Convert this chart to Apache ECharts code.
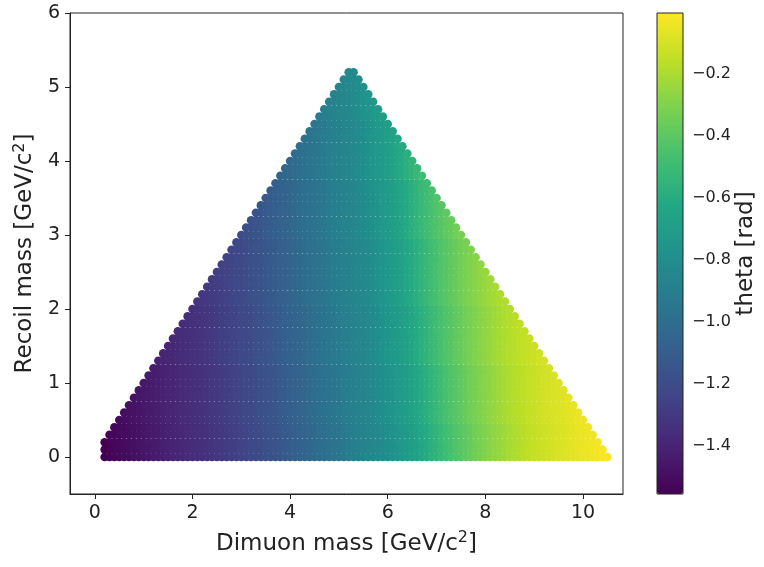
<!DOCTYPE html>
<html>
<head>
<meta charset="utf-8">
<script src="https://cdn.jsdelivr.net/npm/echarts@6/dist/echarts.min.js"></script>
<style>
    body { margin: 0; background: #fff; }
    #main { width: 764px; height: 567px; }
</style>
</head>
<body>
<div id="main"></div>
<script>
    // grid columns (dimuon mass) and rows (recoil mass)
    var dimuonMass = [0.2,0.3,0.4,0.5,0.6,0.7,0.8,0.9,1.0,1.1,1.2,1.3,1.4,1.5,1.6,1.7,1.8,1.9,2.0,2.1,
        2.2,2.3,2.4,2.5,2.6,2.7,2.8,2.9,3.0,3.1,3.2,3.3,3.4,3.5,3.6,3.7,3.8,3.9,4.0,4.1,
        4.2,4.3,4.4,4.5,4.6,4.7,4.8,4.9,5.0,5.1,5.2,5.3,5.4,5.5,5.6,5.7,5.8,5.9,6.0,6.1,
        6.2,6.3,6.4,6.5,6.6,6.7,6.8,6.9,7.0,7.1,7.2,7.3,7.4,7.5,7.6,7.7,7.8,7.9,8.0,8.1,
        8.2,8.3,8.4,8.5,8.6,8.7,8.8,8.9,9.0,9.1,9.2,9.3,9.4,9.5,9.6,9.7,9.8,9.9,10.0,10.1,
        10.2,10.3,10.4,10.5];
    var recoilMass = [0.0,0.1,0.2,0.3,0.4,0.5,0.6,0.7,0.8,0.9,1.0,1.1,1.2,1.3,1.4,1.5,1.6,1.7,1.8,1.9,
        2.0,2.1,2.2,2.3,2.4,2.5,2.6,2.7,2.8,2.9,3.0,3.1,3.2,3.3,3.4,3.5,3.6,3.7,3.8,3.9,
        4.0,4.1,4.2,4.3,4.4,4.5,4.6,4.7,4.8,4.9,5.0,5.1,5.2];
    // first / last filled column of every row (triangle edges)
    var rowFirstCol = [0,0,0,1,2,3,4,5,6,7,8,9,10,11,12,13,14,15,16,17,18,19,20,21,22,23,24,25,26,27,
        28,29,30,31,32,33,34,35,36,37,38,39,40,41,42,43,44,45,46,47,48,49,50];
    var rowLastCol = [103,102,101,100,99,98,97,96,95,94,93,92,91,90,89,88,87,86,85,84,83,82,81,80,79,78,
        77,76,75,74,73,72,71,70,69,68,67,66,65,64,63,62,61,60,59,58,57,56,55,54,53,52,51];
    // theta read along the bottom row, one per column
    var thetaAlongBase = [-1.556,-1.545,-1.534,-1.523,-1.512,-1.501,-1.490,-1.479,-1.468,-1.457,
        -1.446,-1.435,-1.424,-1.413,-1.402,-1.392,-1.382,-1.372,-1.362,-1.352,
        -1.342,-1.332,-1.322,-1.312,-1.302,-1.289,-1.276,-1.263,-1.250,-1.237,
        -1.224,-1.211,-1.198,-1.185,-1.172,-1.156,-1.140,-1.124,-1.108,-1.092,
        -1.076,-1.060,-1.044,-1.028,-1.012,-0.996,-0.980,-0.964,-0.948,-0.932,
        -0.916,-0.900,-0.887,-0.874,-0.861,-0.848,-0.835,-0.820,-0.799,-0.778,
        -0.757,-0.735,-0.714,-0.692,-0.670,-0.640,-0.610,-0.580,-0.550,-0.520,
        -0.490,-0.462,-0.438,-0.414,-0.390,-0.367,-0.343,-0.320,-0.302,-0.284,
        -0.266,-0.248,-0.230,-0.212,-0.195,-0.183,-0.171,-0.159,-0.147,-0.135,
        -0.123,-0.111,-0.102,-0.093,-0.085,-0.076,-0.067,-0.059,-0.050,-0.041,
        -0.031,-0.022,-0.012,-0.003];
    // how many columns the colour bands lean to the left at each row
    var rowColourShift = [0,0,0,0,0,1,1,1,1,1,1,1,1,2,2,2,2,2,2,2,2,3,3,3,3,3,3,3,3,3,
        4,4,4,4,4,4,4,4,5,5,5,5,5,5,5,5,6,6,6,6,6,6,6];

    var xTicks = [0, 2, 4, 6, 8, 10];
    var yTicks = [0, 1, 2, 3, 4, 5, 6];
    var cbTicks = [-1.4, -1.2, -1.0, -0.8, -0.6, -0.4, -0.2];
    var viridis = ['#440154','#482475','#414487','#355f8d','#2a788e','#21918c',
        '#22a884','#44bf70','#7ad151','#bddf26','#fde725'];

    var points = [];
    for (var r = 0; r < recoilMass.length; r++) {
        for (var c = rowFirstCol[r]; c <= rowLastCol[r]; c++) {
            var k = Math.min(c + rowColourShift[r], thetaAlongBase.length - 1);
            points.push([dimuonMass[c], recoilMass[r], thetaAlongBase[k]]);
        }
    }
    var thetaMin = Math.min.apply(null, thetaAlongBase);
    var thetaMax = Math.max.apply(null, thetaAlongBase);

    var font = 'DejaVu Sans';
    var fmt = function (v) { return v.toFixed(1).replace('-', '\u2212'); };

    var option = {
        animation: false,
        textStyle: { fontFamily: font, color: '#222' },
        grid: [
            { left: 70, top: 13, width: 553, height: 481, show: true, borderColor: '#222', borderWidth: 1 },
            { left: 657, top: 13, width: 26, height: 481, show: true, borderColor: '#222', borderWidth: 1, z: 10 }
        ],
        xAxis: [
            {
                type: 'value', gridIndex: 0, min: -0.51, max: 10.82,
                name: 'Dimuon mass [GeV/c{sup|2}]', nameLocation: 'middle', nameGap: 36,
                nameTextStyle: {
                    fontFamily: font, fontSize: 23, color: '#222',
                    rich: { sup: { fontSize: 16, fontFamily: font, color: '#222', padding: [0, 0, 12, 0] } }
                },
                axisLine: { show: true, onZero: false, lineStyle: { color: '#222' } },
                axisTick: { show: true, length: 5, customValues: xTicks, lineStyle: { color: '#222' } },
                axisLabel: { customValues: xTicks, fontSize: 19, margin: 10, color: '#222', fontFamily: font },
                splitLine: { show: false }
            },
            { type: 'value', gridIndex: 1, show: false, min: 0, max: 1 }
        ],
        yAxis: [
            {
                type: 'value', gridIndex: 0, min: -0.5, max: 6,
                name: 'Recoil mass [GeV/c{sup|2}]', nameLocation: 'middle', nameGap: 28,
                nameTextStyle: {
                    fontFamily: font, fontSize: 23, color: '#222',
                    rich: { sup: { fontSize: 16, fontFamily: font, color: '#222', padding: [0, 0, 12, 0] } }
                },
                axisLine: { show: true, onZero: false, lineStyle: { color: '#222' } },
                axisTick: { show: true, length: 5, customValues: yTicks, lineStyle: { color: '#222' } },
                axisLabel: { customValues: yTicks, fontSize: 19, margin: 10, color: '#222', fontFamily: font },
                splitLine: { show: false }
            },
            {
                type: 'value', gridIndex: 1, position: 'right', min: thetaMin, max: thetaMax,
                name: 'theta [rad]', nameLocation: 'middle', nameGap: 52, nameRotate: 90,
                nameTextStyle: { fontFamily: font, fontSize: 23, color: '#222' },
                axisLine: { show: false },
                axisTick: { show: true, length: 5, customValues: cbTicks, lineStyle: { color: '#222' } },
                axisLabel: { customValues: cbTicks, fontSize: 16, margin: 9, color: '#222', fontFamily: font, formatter: fmt },
                splitLine: { show: false }
            }
        ],
        visualMap: {
            type: 'continuous',
            min: thetaMin, max: thetaMax,
            dimension: 2, seriesIndex: 0,
            left: 657, top: 13, itemWidth: 26, itemHeight: 481,
            padding: 0, calculable: false, showLabel: false,
            inRange: { color: viridis }
        },
        series: [{
            type: 'scatter',
            xAxisIndex: 0, yAxisIndex: 0,
            symbolSize: 8.6,
            itemStyle: { opacity: 1 },
            data: points
        }]
    };

    echarts.init(document.getElementById('main')).setOption(option);
</script>
</body>
</html>
